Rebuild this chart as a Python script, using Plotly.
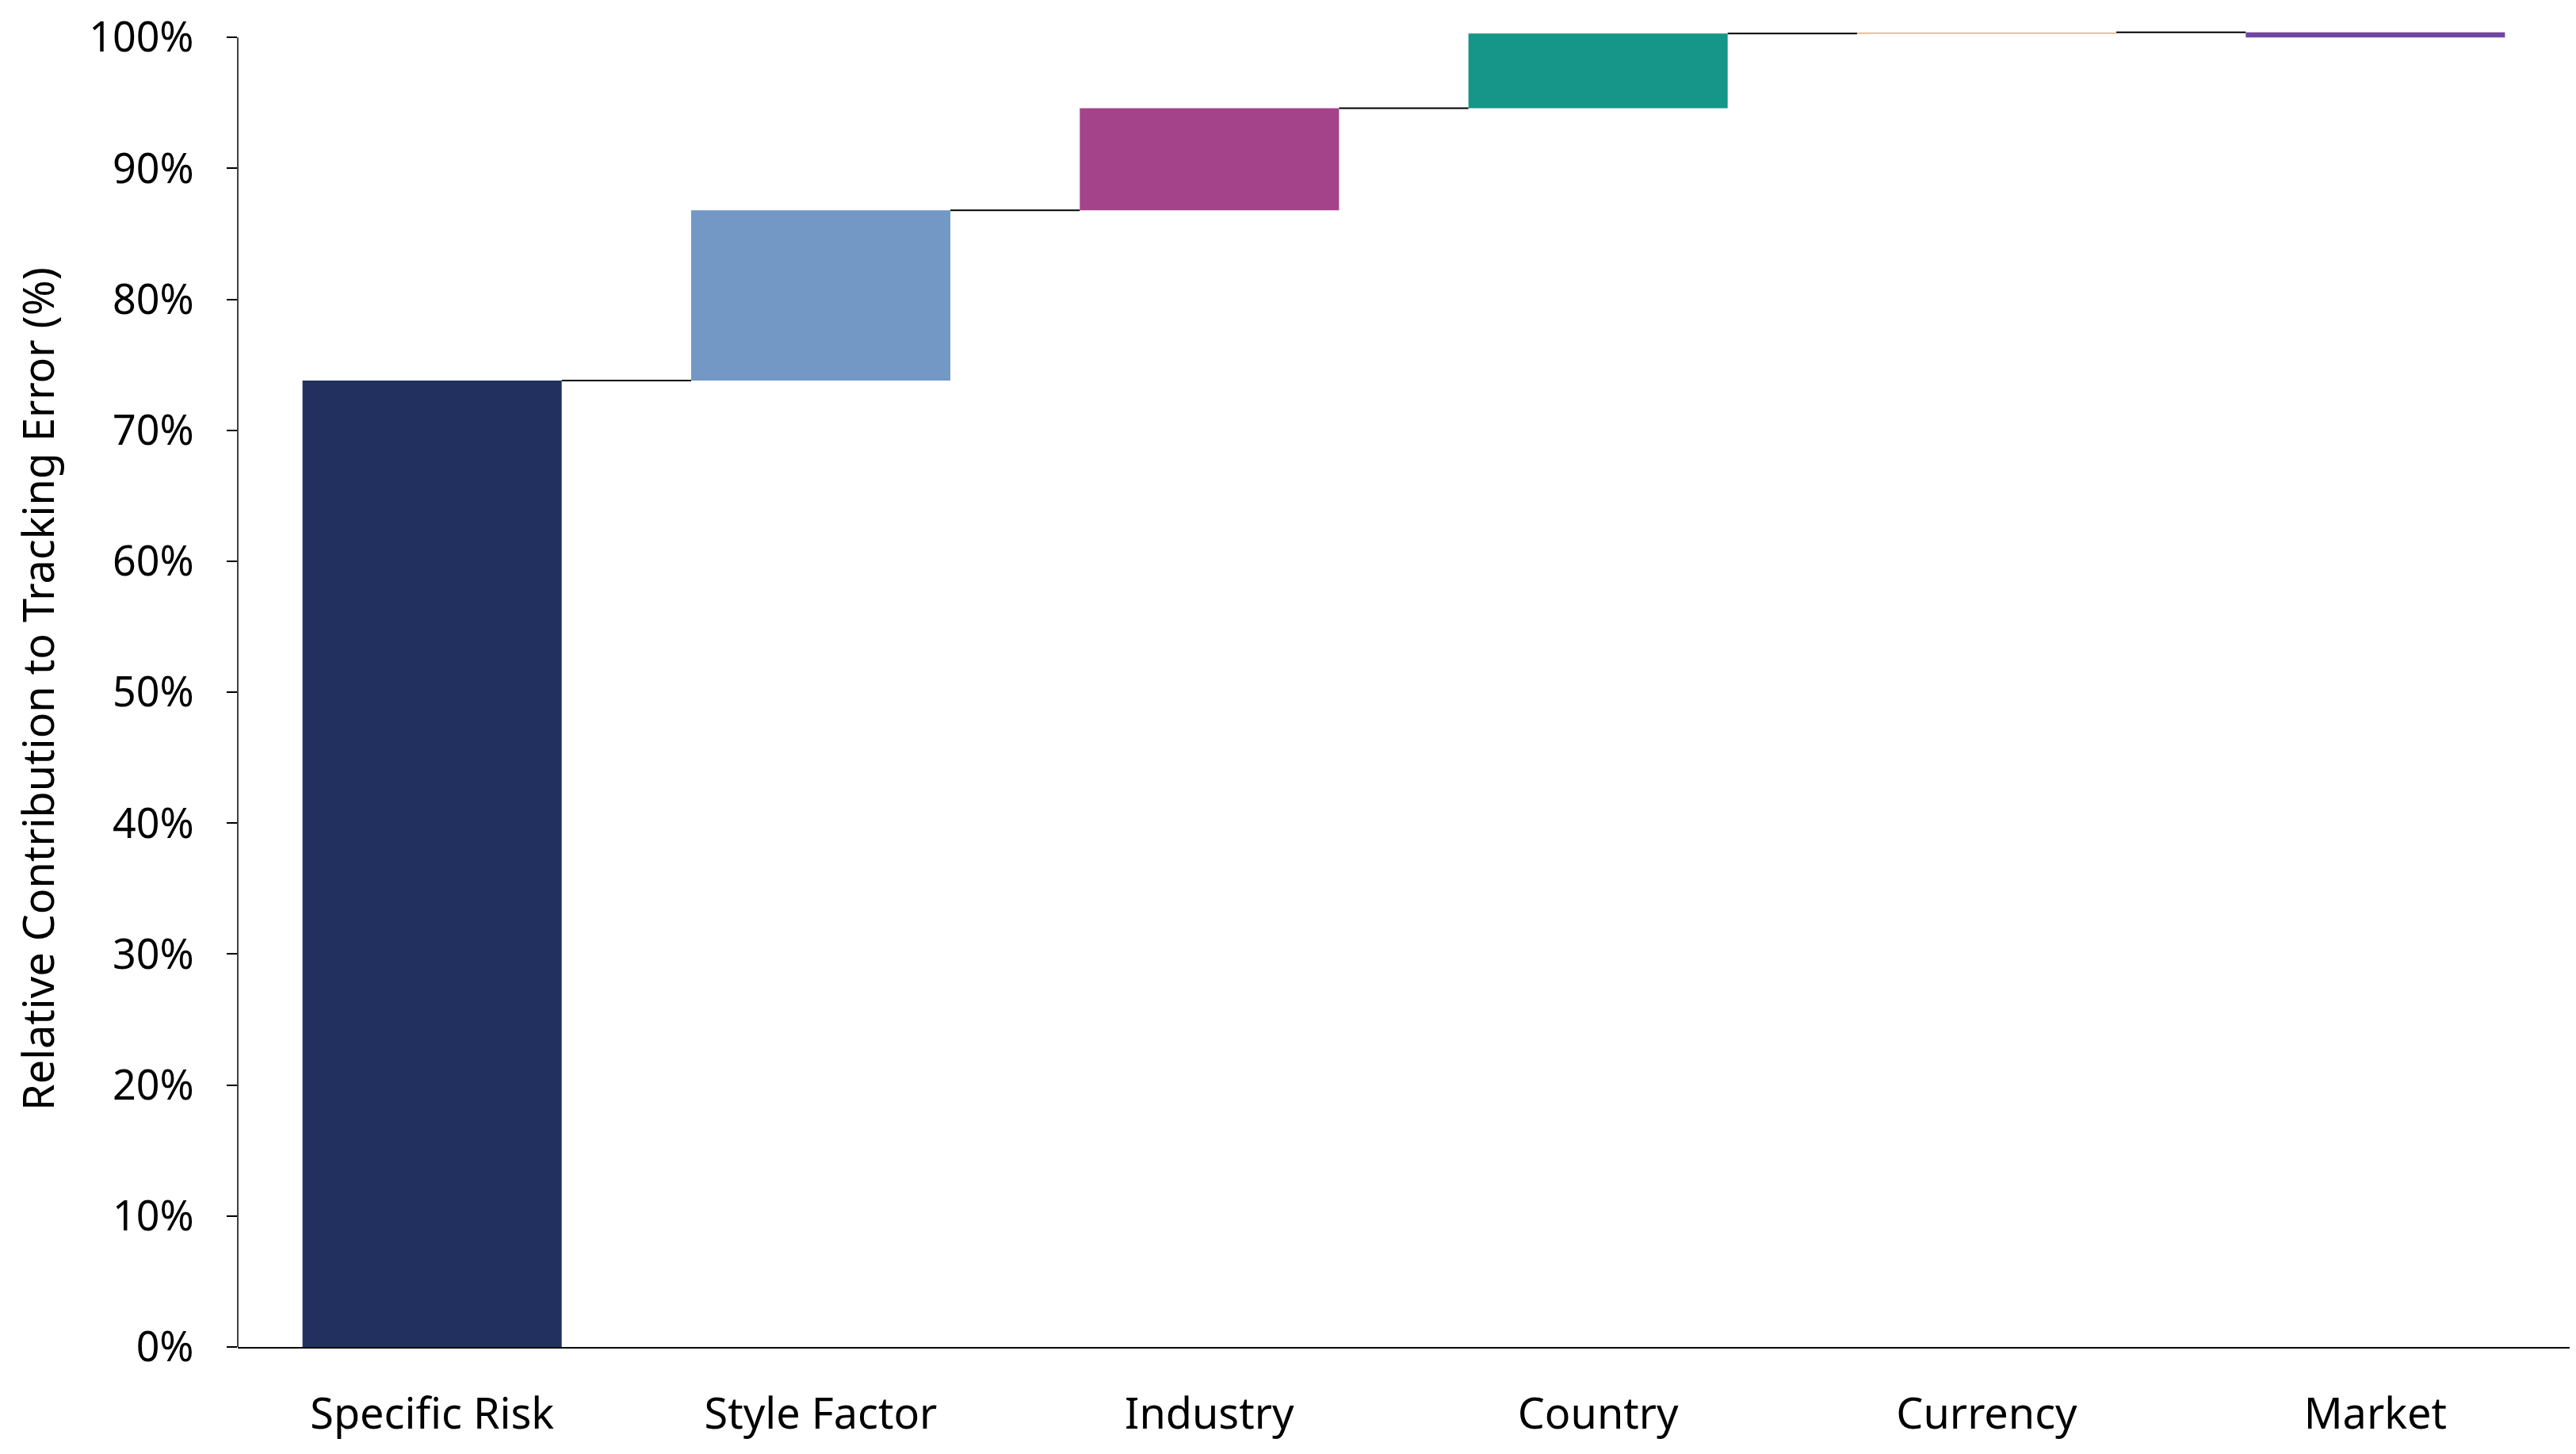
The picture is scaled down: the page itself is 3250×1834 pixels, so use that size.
import plotly.graph_objects as go
import numpy as np

categories = ["Specific Risk", "Style Factor", "Industry", "Country", "Currency", "Market"]
contribution = [73.8, 13.0, 7.8, 5.7, 0.1, -0.4]
bar_colors = ["#21305e", "#7398c5", "#a5438a", "#159688", "#f3c2a0", "#6f479e"]
y_ticks = [0, 10, 20, 30, 40, 50, 60, 70, 80, 90, 100]
y_labels = [f"{v}%" for v in y_ticks]

# running total -> base of each floating bar
running = np.cumsum(contribution)
bases = running - np.array(contribution)

fig = go.Figure()

# invisible waterfall just for the connector lines
fig.add_trace(go.Waterfall(
    x=categories,
    y=contribution,
    measure=["relative"] * len(categories),
    increasing=dict(marker=dict(color="rgba(0,0,0,0)", line=dict(width=0))),
    decreasing=dict(marker=dict(color="rgba(0,0,0,0)", line=dict(width=0))),
    connector=dict(line=dict(color="black", width=2), mode="between"),
    showlegend=False,
    hoverinfo="skip",
))

# coloured bars
fig.add_trace(go.Bar(
    x=categories,
    y=contribution,
    base=bases,
    marker=dict(color=bar_colors, line=dict(width=0)),
    showlegend=False,
))

# y axis line only up to the 100% tick
fig.add_shape(type="line", xref="paper", yref="y", x0=0, x1=0, y0=0, y1=100,
              line=dict(color="black", width=1.5))

# page body has an 8px margin, so the figure is sized/offset to compensate
fig.update_layout(
    width=3234,
    height=1818,
    margin=dict(l=292, r=0, t=31, b=127),
    paper_bgcolor="white",
    plot_bgcolor="white",
    barmode="overlay",
    bargap=0.333,
    waterfallgap=0.333,
    font=dict(family="Noto Sans", size=54, color="black"),
)

fig.update_xaxes(
    automargin=False,
    showline=True,
    linecolor="black",
    linewidth=2,
    showgrid=False,
    ticks="",
    ticklabelstandoff=36,
    tickfont=dict(size=54),
)

fig.update_yaxes(
    automargin=False,
    range=[0, 100.5],
    tickmode="array",
    tickvals=y_ticks,
    ticktext=y_labels,
    ticklabeloverflow="allow",
    showline=False,
    ticks="outside",
    ticklen=13,
    tickwidth=1.5,
    tickcolor="black",
    showgrid=False,
    zeroline=False,
    ticklabelstandoff=31,
    tickfont=dict(size=52),
    title=dict(text="Relative Contribution to Tracking Error (%)", font=dict(size=54), standoff=26),
)

fig.write_html("out.html")
